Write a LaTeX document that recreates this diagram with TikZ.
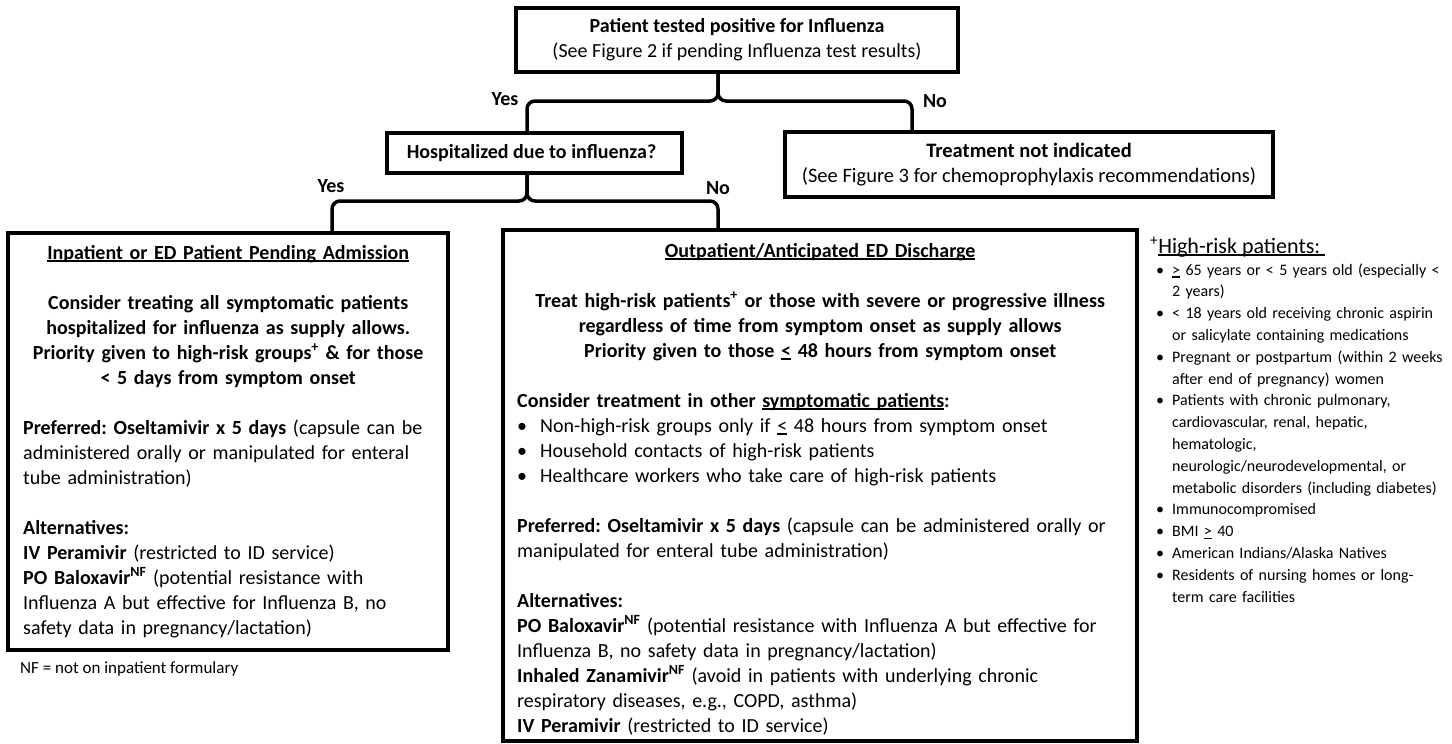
\documentclass[tikz,border=0pt]{standalone}
\usepackage{fontspec}
\setmainfont{Carlito}
\usetikzlibrary{positioning}

% underline that sits close to the baseline
\newcommand{\ulbase}[1]{\leavevmode\setbox0=\hbox{#1}\rlap{\rule[-2.6pt]{\wd0}{1.3pt}}\box0\relax}

\begin{document}
\begin{tikzpicture}[x=1pt, y=-1pt,
		box/.style={draw, rectangle, line width=3.5pt, inner sep=0pt, align=center,
			font=\fontsize{20}{25}\selectfont},
		link/.style={line width=3.5pt, rounded corners=8pt},
		txt/.style={inner sep=0pt, align=left, anchor=base west,
			font=\fontsize{20}{25}\selectfont\frenchspacing},
		small/.style={inner sep=0pt, align=left, anchor=base west,
			font=\fontsize{16}{21.8}\selectfont\frenchspacing},
		lbl/.style={inner sep=0pt, font=\fontsize{20}{25}\selectfont\bfseries}]
	\useasboundingbox (0,0) rectangle (1452,744);

	% decision boxes
	\node (pos) [box, minimum width=442pt, minimum height=64pt] at (737,40) {
		\textbf{Patient tested positive for Influenza}\\
		(See Figure 2 if pending Influenza test results)
	};
	\node (hosp) [box, minimum width=295pt, minimum height=40pt] at (534.5,153) {
		\textbf{Hospitalized due to influenza?}
	};
	\node (none) [box, minimum width=488pt, minimum height=65pt, font=\fontsize{20.5}{25}\selectfont] at (1029,164.5) {
		\textbf{Treatment not indicated}\\
		(See Figure 3 for chemoprophylaxis recommendations)
	};
	\node (inpt) [box, minimum width=440pt, minimum height=417pt] at (228,441.5) {};
	\node (outpt) [box, minimum width=634pt, minimum height=511pt] at (820,485.5) {};

	% braces
	\coordinate (fork1) at (718,101);
	\coordinate (fork2) at (527,201);
	\draw [link] (pos.south -| fork1) -- (fork1) -| ([xshift=-7.5pt]hosp.north);
	\draw [link] (pos.south -| fork1) -- (fork1) -| ([xshift=-117pt]none.north);
	\draw [link] (hosp.south -| fork2) -- (fork2) -| ([xshift=104pt]inpt.north);
	\draw [link] (hosp.south -| fork2) -- (fork2) -| ([xshift=-102pt]outpt.north);
	\node (yes1) [lbl] at (505,99) {Yes};
	\node (no1) [lbl] at (935,101) {No};
	\node (yes2) [lbl] at (331,186) {Yes};
	\node (no2) [lbl] at (718,188) {No};

	% inpatient panel
	\node (inpttxt) [txt, text width=410pt] at (23,259) {\raggedright
		{\centering\bfseries\ulbase{Inpatient or ED Patient Pending Admission}\\[25pt]
			Consider treating all symptomatic patients\\
			hospitalized for influenza as supply allows.\\
			Priority given to high-risk groups\textsuperscript{+} \& for those\\
			< 5 days from symptom onset\par}
		\vspace{25pt}
		\textbf{Preferred: Oseltamivir x 5 days} (capsule can be\\
		administered orally or manipulated for enteral\\
		tube administration)\\[25pt]
		\textbf{Alternatives:}\\
		\textbf{IV Peramivir} (restricted to ID service)\\
		\textbf{PO Baloxavir\textsuperscript{NF}} (potential resistance with\\
		Influenza A but effective for Influenza B, no\\
		safety data in pregnancy/lactation)
	};
	\node (nfnote) [small, font=\fontsize{17}{21.8}\selectfont] at (20,673) {NF = not on inpatient formulary};

	% outpatient panel
	\node (outpttxt) [txt, text width=606pt] at (517,257) {\raggedright
		{\centering\bfseries\ulbase{Outpatient/Anticipated ED Discharge}\\[25pt]
			Treat high-risk patients\textsuperscript{+} or those with severe or progressive illness\\
			regardless of time from symptom onset as supply allows\\
			Priority given to those \ulbase{<} 48 hours from symptom onset\par}
		\vspace{25pt}
		\textbf{Consider treatment in other \ulbase{symptomatic patients}:}\\
		\makebox[23pt][l]{\textbullet}Non-high-risk groups only if \ulbase{<} 48 hours from symptom onset\\
		\makebox[23pt][l]{\textbullet}Household contacts of high-risk patients\\
		\makebox[23pt][l]{\textbullet}Healthcare workers who take care of high-risk patients\\[25pt]
		\textbf{Preferred: Oseltamivir x 5 days} (capsule can be administered orally or\\
		manipulated for enteral tube administration)\\[25pt]
		\textbf{Alternatives:}\\
		\textbf{PO Baloxavir\textsuperscript{NF}} (potential resistance with Influenza A but effective for\\
		Influenza B, no safety data in pregnancy/lactation)\\
		\textbf{Inhaled Zanamivir\textsuperscript{NF}} (avoid in patients with underlying chronic\\
		respiratory diseases, e.g., COPD, asthma)\\
		\textbf{IV Peramivir} (restricted to ID service)
	};

	% high-risk list
	\node (riskhead) [txt, font=\fontsize{22}{25}\selectfont] at (1150,253)
		{\textsuperscript{+}\ulbase{High-risk patients:\ }};
	\node (risklist) [small, text width=330pt] at (1156,275) {\raggedright
		\makebox[16pt][l]{\textbullet}\ulbase{>} 65 years or < 5 years old (especially <\\
		\hspace*{16pt}2 years)\\
		\makebox[16pt][l]{\textbullet}< 18 years old receiving chronic aspirin\\
		\hspace*{16pt}or salicylate containing medications\\
		\makebox[16pt][l]{\textbullet}Pregnant or postpartum (within 2 weeks\\
		\hspace*{16pt}after end of pregnancy) women\\
		\makebox[16pt][l]{\textbullet}Patients with chronic pulmonary,\\
		\hspace*{16pt}cardiovascular, renal, hepatic,\\
		\hspace*{16pt}hematologic,\\
		\hspace*{16pt}neurologic/neurodevelopmental, or\\
		\hspace*{16pt}metabolic disorders (including diabetes)\\
		\makebox[16pt][l]{\textbullet}Immunocompromised\\
		\makebox[16pt][l]{\textbullet}BMI \ulbase{>} 40\\
		\makebox[16pt][l]{\textbullet}American Indians/Alaska Natives\\
		\makebox[16pt][l]{\textbullet}Residents of nursing homes or long-\\
		\hspace*{16pt}term care facilities
	};
\end{tikzpicture}
\end{document}
